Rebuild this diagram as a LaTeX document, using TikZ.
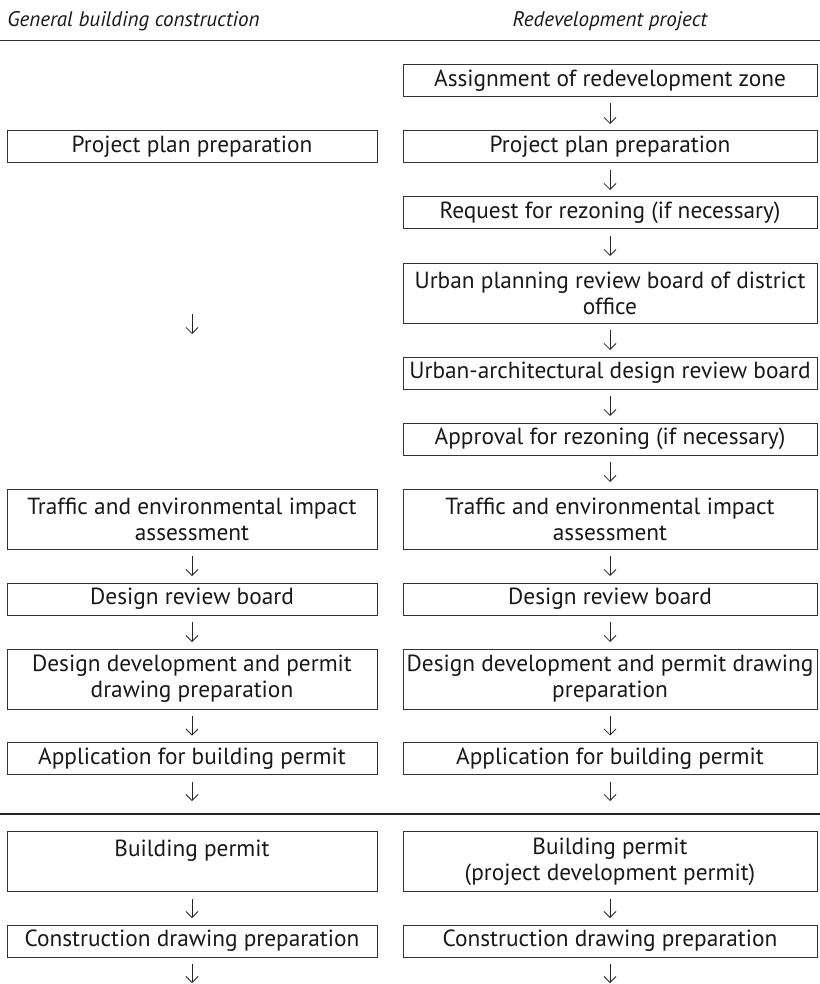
\documentclass[tikz,border=0pt]{standalone}
\usepackage{fontspec}
\setmainfont{PT Sans}
\usetikzlibrary{arrows.meta}
\begin{document}
\begin{tikzpicture}[x=0.75pt,y=-0.75pt,
 box/.style={draw=black!80, line width=0.75pt, inner sep=0pt, outer sep=0pt, align=center,
   font=\fontsize{17.5}{19.5}\selectfont, text=black!90},
 lbox/.style={box, minimum width=277.5pt},
 rbox/.style={box, minimum width=310.5pt},
 one/.style={minimum height=24pt},
 two/.style={minimum height=45pt},
 arr/.style={-{Straight Barb[length=4.5pt,width=9pt]}, line width=0.6pt, draw=black!85,
   shorten <=5.25pt, shorten >=5.25pt},
 hd/.style={font=\fontsize{15.8}{18}\selectfont\itshape, text=black!90, inner sep=0pt},
 rule/.style={draw=black!80, line width=0.75pt}]
\useasboundingbox (0,0) rectangle (820,984);

% headers
\node[hd, anchor=base west] (h1) at (7,27) {General building construction};
\node[hd, anchor=base] (h2) at (610,27) {Redevelopment project};
\coordinate (t1) at (0,41); \coordinate (t2) at (820,41);
\draw[rule] (t1) -- (t2);

% right column
\node[rbox,one] (R1) at (610,80.5) {Assignment of redevelopment zone};
\node[rbox,one] (R2) at (610,147) {Project plan preparation};
\node[rbox,one] (R3) at (610,213) {Request for rezoning (if necessary)};
\node[rbox,two] (R4) at (610,293) {Urban planning review board of district\\office};
\node[rbox,one] (R5) at (610,373) {Urban-architectural design review board};
\node[rbox,one] (R6) at (610,439) {Approval for rezoning (if necessary)};
\node[rbox,two] (R7) at (610,519) {Traffic and environmental impact\\assessment};
\node[rbox,one] (R8) at (610,599) {Design review board};
\node[rbox,two] (R9) at (610,679) {Design development and permit drawing\\preparation};
\node[rbox,one] (R10) at (610,758.5) {Application for building permit};
\node[rbox,two] (R11) at (610,861.5) {Building permit\\(project development permit)};
\node[rbox,one] (R12) at (610,941) {Construction drawing preparation};

% left column
\node[lbox,one] (L1) at (192,147) {Project plan preparation};
\node[lbox,two] (L2) at (192,519) {Traffic and environmental impact\\assessment};
\node[lbox,one] (L3) at (192,599) {Design review board};
\node[lbox,two] (L4) at (192,679) {Design development and permit\\drawing preparation};
\node[lbox,one] (L5) at (192,758.5) {Application for building permit};
\node[lbox,two] (L6) at (192,861.5) {Building permit\\\mbox{}};
\node[lbox,one] (L7) at (192,941) {Construction drawing preparation};

% thick separator
\coordinate (s1) at (0,814); \coordinate (s2) at (820,814);
\draw[draw=black!85, line width=1.9pt] (s1) -- (s2);

% right arrows
\foreach \a/\b in {R1/R2,R2/R3,R3/R4,R4/R5,R5/R6,R6/R7,R7/R8,R8/R9,R9/R10,R11/R12}
  \draw[arr] (\a.south) -- (\b.north);
% left arrows
\draw[arr, shorten <=113.25pt, shorten >=116.25pt] (L1.south) -- (L2.north);
\foreach \a/\b in {L2/L3,L3/L4,L4/L5,L6/L7}
  \draw[arr] (\a.south) -- (\b.north);

% dangling arrows
\coordinate (eL1) at (192,801); \coordinate (eR1) at (610,801);
\coordinate (eL2) at (192,983); \coordinate (eR2) at (610,983);
\draw[arr, shorten >=0pt] (L5.south) -- (eL1);
\draw[arr, shorten >=0pt] (R10.south) -- (eR1);
\draw[arr, shorten >=0pt] (L7.south) -- (eL2);
\draw[arr, shorten >=0pt] (R12.south) -- (eR2);
\end{tikzpicture}
\end{document}
